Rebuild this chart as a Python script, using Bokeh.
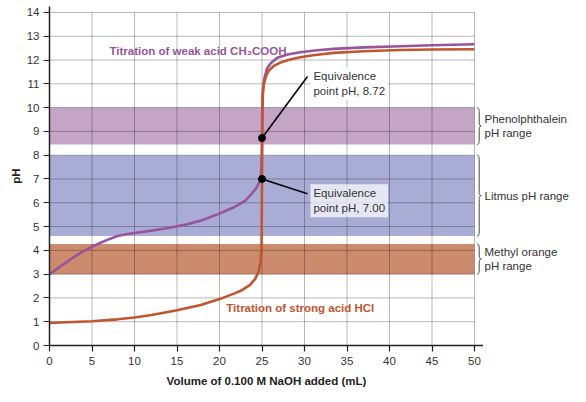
from bokeh.plotting import figure
from bokeh.models import Range1d, FixedTicker, Label
from bokeh.layouts import row
from bokeh.embed import file_html
from bokeh.resources import INLINE
from bokeh.core.properties import value
import numpy as np

# ---------------- data ----------------
weak_vol = [0, 1, 2, 3, 4, 5, 6, 7, 8, 9, 10, 12, 14, 16, 18, 20, 21.7, 23, 23.6, 24.4,
            24.7, 24.85, 24.95, 25.0, 25.03, 25.1, 25.25, 25.6, 26.0, 26.8, 28, 29.5,
            31.5, 33.4, 37, 41.3, 45, 50]
weak_ph = [3.0, 3.25, 3.5, 3.75, 3.97, 4.15, 4.32, 4.47, 4.6, 4.68, 4.73, 4.83, 4.94, 5.08,
           5.27, 5.55, 5.81, 6.08, 6.3, 6.65, 6.9, 7.1, 7.6, 8.72, 9.8, 10.7, 11.2, 11.65,
           11.85, 12.1, 12.23, 12.33, 12.41, 12.47, 12.53, 12.58, 12.62, 12.66]

strong_vol = [0, 2, 5, 8, 10, 12, 15, 17.8, 20, 21.7, 22.5, 23.6, 24.2, 24.6, 24.85, 24.95,
              25.0, 25.05, 25.1, 25.2, 25.45, 25.8, 26.4, 27.2, 28.3, 29.5, 31, 33.4, 37,
              41.3, 45, 50]
strong_ph = [0.95, 0.98, 1.02, 1.1, 1.18, 1.28, 1.48, 1.7, 1.95, 2.18, 2.3, 2.55, 2.8, 3.1,
             3.55, 4.2, 7.0, 9.8, 10.6, 10.95, 11.3, 11.56, 11.75, 11.9, 12.02, 12.12, 12.2,
             12.3, 12.37, 12.42, 12.44, 12.45]

band_names = ["Phenolphthalein\npH range", "Litmus pH range", "Methyl orange\npH range"]
band_low = [8.45, 4.6, 3.0]
band_high = [10.0, 8.0, 4.27]
band_colors = ["#c5a5c6", "#a9add6", "#cc8b6d"]

x_ticks = list(range(0, 51, 5))
y_ticks = list(range(0, 15))

eq_vol = [25, 25]
eq_ph = [8.72, 7.00]
eq_text = ["Equivalence\npoint pH, 8.72", "Equivalence\npoint pH, 7.00"]
eq_label_x = [30.7, 30.7]
eq_label_y = [11.01, 6.08]
eq_label_bg = [1.0, 0.7]

weak_title = "Titration of weak acid CH\u2083COOH"
strong_title = "Titration of strong acid HCl"
weak_title_pos = (7.06, 12.37)
strong_title_pos = (20.8, 1.57)

FONT = "Liberation Sans"
PURPLE = "#97559c"
ORANGE = "#c0552f"
TXT = "#333333"

PX_PER_ML = 8.5
MAIN_W = 434
SIDE_W = 93
X_END = MAIN_W / PX_PER_ML
y_range = Range1d(0, 14.25)

p = figure(frame_width=MAIN_W, frame_height=339,
           x_range=Range1d(0, X_END), y_range=y_range,
           output_backend="svg", toolbar_location=None,
           min_border_left=49, min_border_right=0, min_border_top=6, min_border_bottom=49)
p.outline_line_color = None
p.xgrid.visible = False
p.ygrid.visible = False

xmin, xmax = x_ticks[0], x_ticks[-1]
ymin, ymax = y_ticks[0], y_ticks[-1]

# indicator bands
p.quad(left=xmin, right=xmax, bottom=band_low, top=band_high,
       fill_color=band_colors, line_color=None)

# grid lines (drawn over bands, under curves)
hy = y_ticks[1:]
p.segment(x0=[xmin] * len(hy), y0=hy, x1=[xmax] * len(hy), y1=hy,
          line_color="black", line_alpha=0.28, line_width=1)
vx = x_ticks[1:]
p.segment(x0=vx, y0=[ymin] * len(vx), x1=vx, y1=[ymax] * len(vx),
          line_color="black", line_alpha=0.28, line_width=1)

# curves
p.line(weak_vol, weak_ph, line_color=PURPLE, line_width=2.6)
p.line(strong_vol, strong_ph, line_color=ORANGE, line_width=2.6)

# leader lines and dots
p.segment(x0=eq_vol, y0=eq_ph,
          x1=[x - 0.35 for x in eq_label_x], y1=[y + 0.3 for y in eq_label_y],
          line_color="black", line_width=1.6)
p.scatter(eq_vol, eq_ph, size=7, color="black")

for t, lx, ly, bg in zip(eq_text, eq_label_x, eq_label_y, eq_label_bg):
    p.add_layout(Label(x=lx, y=ly, text=t, text_align="left", text_baseline="middle",
                       text_font=FONT, text_font_size="11.5px", text_color=TXT,
                       text_line_height=1.25,
                       background_fill_color="white", background_fill_alpha=bg,
                       padding=3))

# curve titles
p.text(x=[weak_title_pos[0]], y=[weak_title_pos[1]], text=[weak_title],
       text_font=value(FONT), text_font_size="11.5px", text_font_style="bold",
       text_color=PURPLE, text_align="left", text_baseline="middle")
p.text(x=[strong_title_pos[0]], y=[strong_title_pos[1]], text=[strong_title],
       text_font=value(FONT), text_font_size="11.5px", text_font_style="bold",
       text_color=ORANGE, text_align="left", text_baseline="middle")


# braces beside the bands
def brace(y0, y1, xb, d=0.5, r=0.17):
    ym = (y0 + y1) / 2.0
    t = np.linspace(0, 1, 8)

    def qb(a, c, b):
        return ((1 - t) ** 2 * a[0] + 2 * (1 - t) * t * c[0] + t ** 2 * b[0],
                (1 - t) ** 2 * a[1] + 2 * (1 - t) * t * c[1] + t ** 2 * b[1])
    xm = xb + d / 2
    segs = [
        qb((xb, y1), (xm, y1), (xm, y1 - r)),
        ((xm, xm), (y1 - r, ym + r)),
        qb((xm, ym + r), (xm, ym), (xb + d, ym)),
        qb((xb + d, ym), (xm, ym), (xm, ym - r)),
        ((xm, xm), (ym - r, y0 + r)),
        qb((xm, y0 + r), (xm, y0), (xb, y0)),
    ]
    xs = np.concatenate([np.asarray(s[0], dtype=float) for s in segs])
    ys = np.concatenate([np.asarray(s[1], dtype=float) for s in segs])
    return list(xs), list(ys)


bxs, bys = [], []
for lo, hi in zip(band_low, band_high):
    bx, by = brace(lo, hi, xb=xmax + 0.3)
    bxs.append(bx)
    bys.append(by)
p.multi_line(bxs, bys, line_color="#444444", line_width=1)

# axes
p.xaxis.ticker = FixedTicker(ticks=x_ticks)
p.yaxis.ticker = FixedTicker(ticks=y_ticks)
p.xaxis.axis_label = "Volume of 0.100 M NaOH added (mL)"
p.yaxis.axis_label = "pH"
for ax in (p.xaxis, p.yaxis):
    ax.axis_line_color = "#222222"
    ax.axis_line_width = 1.5
    ax.major_tick_line_color = "#222222"
    ax.major_tick_line_width = 1.2
    ax.minor_tick_line_color = None
    ax.major_tick_out = 6
    ax.major_tick_in = 0
    ax.major_label_text_font = FONT
    ax.major_label_text_font_size = "11.5px"
    ax.major_label_text_color = TXT
    ax.axis_label_text_font = FONT
    ax.axis_label_text_font_size = "11.5px"
    ax.axis_label_text_font_style = "bold"
    ax.axis_label_text_color = "#222222"
p.xaxis.major_label_standoff = 5
p.xaxis.axis_label_standoff = 7
p.yaxis.major_label_standoff = 4
p.yaxis.axis_label_standoff = 2

# ---------------- side panel: indicator names ----------------
q = figure(frame_width=SIDE_W, frame_height=339,
           x_range=Range1d(X_END, X_END + SIDE_W / PX_PER_ML), y_range=y_range,
           output_backend="svg", toolbar_location=None,
           x_axis_location=None, y_axis_location=None,
           min_border_left=0, min_border_right=0, min_border_top=6, min_border_bottom=49)
q.outline_line_color = None
q.xgrid.visible = False
q.ygrid.visible = False

q.text(x=[X_END] * len(band_names),
       y=[(lo + hi) / 2.0 for lo, hi in zip(band_low, band_high)],
       text=band_names, text_align="left", text_baseline="middle",
       text_font=value(FONT), text_font_size="11.5px", text_color=TXT,
       text_line_height=1.2, x_offset=1)

layout = row(p, q)
open("out.html", "w").write(file_html(layout, INLINE))
